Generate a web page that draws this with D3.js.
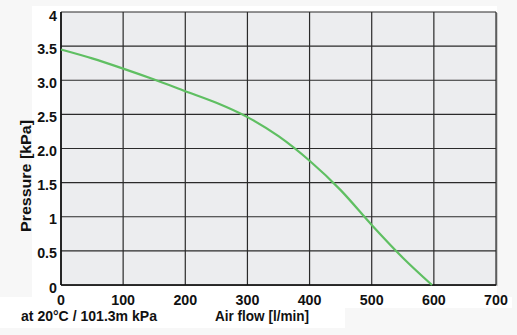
<!DOCTYPE html>
<html><head><meta charset="utf-8">
<script src="https://cdn.jsdelivr.net/npm/d3@7"></script>
<style>
html,body{margin:0;padding:0;background:#f7f7f7;}
svg{display:block;}
text{font-family:"Liberation Sans",Arial,sans-serif;fill:#111;}
</style></head>
<body>
<script>
const airflow = [0, 50, 100, 150, 200, 250, 300, 350, 400, 450, 500, 550, 597];
const pressure = [3.45, 3.32, 3.17, 3.01, 2.84, 2.67, 2.46, 2.18, 1.82, 1.39, 0.88, 0.40, 0];
const xTicks = [0, 100, 200, 300, 400, 500, 600, 700];
const yTicks = [0, 0.5, 1, 1.5, 2, 2.5, 3, 3.5, 4];
const yTickLabels = ["0", "0.5", "1", "1.5", "2.0", "2.5", "3.0", "3.5", "4"];
const xTitle = "Air flow [l/min]";
const yTitle = "Pressure [kPa]";
const note = "at 20°C / 101.3m kPa";

const W = 517, H = 335;
const svg = d3.select("body").append("svg").attr("width", W).attr("height", H);

const x = d3.scaleLinear().domain([0, 700]).range([61, 496]);
const y = d3.scaleLinear().domain([0, 4]).range([285, 12]);

// white backdrops
svg.append("rect").attr("x", 32).attr("y", 6).attr("width", 465).attr("height", 292).attr("fill", "#fff");
svg.append("rect").attr("x", 0).attr("y", 297).attr("width", 512).attr("height", 11).attr("fill", "#fff");
svg.append("rect").attr("x", 0).attr("y", 305).attr("width", 345).attr("height", 23).attr("fill", "#fff");

// shadow + plot area
svg.append("rect").attr("x", x(0) + 1.5).attr("y", y(4) + 1)
  .attr("width", x(700) - x(0)).attr("height", y(0) - y(4)).attr("fill", "#a8a8a8");
svg.append("rect").attr("x", x(0)).attr("y", y(4))
  .attr("width", x(700) - x(0)).attr("height", y(0) - y(4)).attr("fill", "#ecedef");

// grid
svg.append("g").selectAll("line").data(xTicks).join("line")
  .attr("x1", d => x(d)).attr("x2", d => x(d)).attr("y1", y(0)).attr("y2", y(4))
  .attr("stroke", "#2a2a2a").attr("stroke-width", 1.2);
svg.append("g").selectAll("line").data(yTicks).join("line")
  .attr("x1", x(0)).attr("x2", x(700)).attr("y1", d => y(d)).attr("y2", d => y(d))
  .attr("stroke", "#2a2a2a").attr("stroke-width", 1.2);
svg.append("line").attr("x1", x(0)).attr("x2", x(0)).attr("y1", y(0)).attr("y2", y(4)).attr("stroke", "#111").attr("stroke-width", 1.6);
svg.append("line").attr("x1", x(0)).attr("x2", x(700)).attr("y1", y(0)).attr("y2", y(0)).attr("stroke", "#111").attr("stroke-width", 1.6);

// curve
const line = d3.line().x((d, i) => x(airflow[i])).y(d => y(d)).curve(d3.curveMonotoneX);
svg.append("path").datum(pressure).attr("d", line)
  .attr("fill", "none").attr("stroke", "#5fbf62").attr("stroke-width", 2.2);

// tick labels (condensed via horizontal scale)
svg.append("g").selectAll("text").data(xTicks).join("text")
  .attr("transform", d => `translate(${x(d)},305) scale(0.92,1)`)
  .attr("text-anchor", "middle")
  .attr("font-size", 15.5).attr("font-weight", "bold").text(d => d);
svg.append("g").selectAll("text").data(yTicks).join("text")
  .attr("transform", d => `translate(57,${Math.max(y(d) + 7.5, 21)}) scale(0.92,1)`)
  .attr("text-anchor", "end")
  .attr("font-size", 15.5).attr("font-weight", "bold").text((d, i) => yTickLabels[i]);

// titles
svg.append("text").attr("transform", "translate(31,176) rotate(-90)")
  .attr("text-anchor", "middle").attr("font-size", 15).attr("font-weight", "bold")
  .attr("textLength", 112).attr("lengthAdjust", "spacingAndGlyphs").text(yTitle);
svg.append("text").attr("x", 215).attr("y", 321).attr("font-size", 15).attr("font-weight", "bold")
  .attr("textLength", 94).attr("lengthAdjust", "spacingAndGlyphs").text(xTitle);
svg.append("text").attr("x", 21).attr("y", 321).attr("font-size", 15).attr("font-weight", "bold")
  .attr("textLength", 136).attr("lengthAdjust", "spacingAndGlyphs").text(note);
</script>
</body></html>
